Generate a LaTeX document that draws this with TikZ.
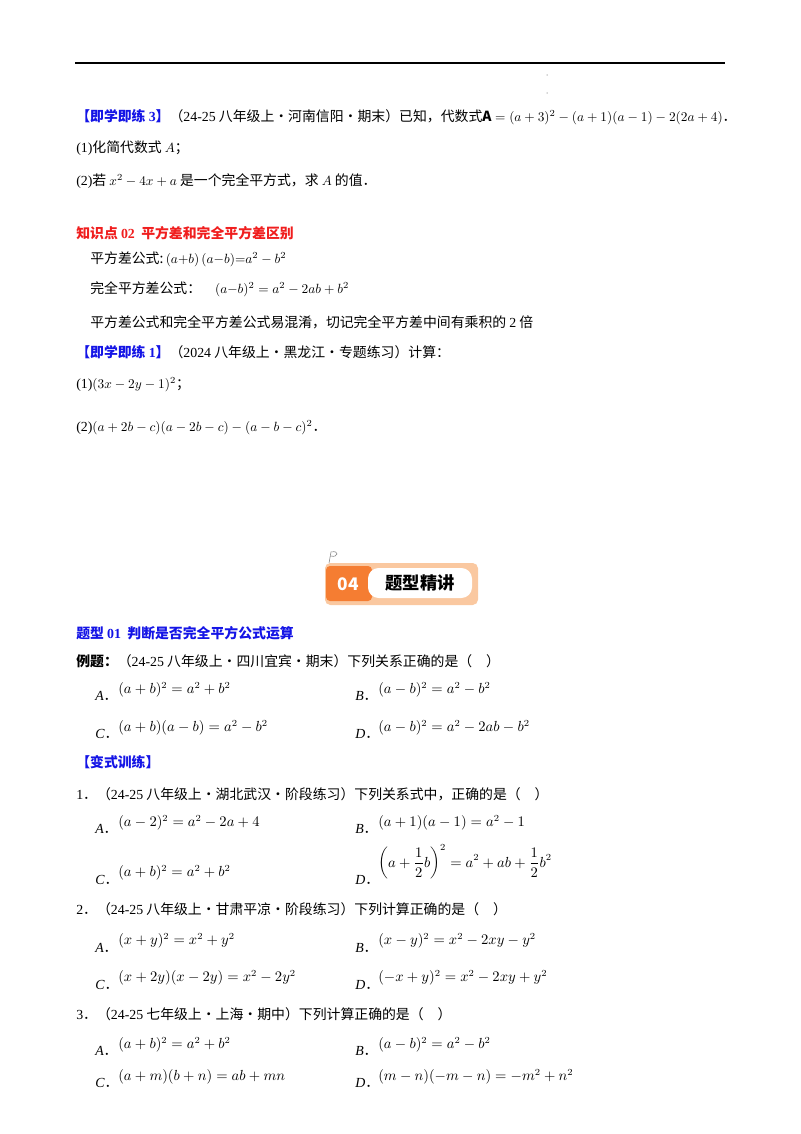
\documentclass[tikz,border=0pt]{standalone}
\usepackage{fontspec}
\setmainfont{Noto Sans CJK SC}
\newfontfamily\serif{Liberation Serif}
\usetikzlibrary{positioning}
\definecolor{bl}{RGB}{20,20,230}
\definecolor{rd}{RGB}{240,30,30}
\definecolor{orng}{RGB}{245,125,50}
\definecolor{lorng}{RGB}{250,200,160}
\newcommand\dotp{{\normalfont ．}}
\begin{document}
\begin{tikzpicture}[x=0.75pt,y=-0.75pt,
 txt/.style={anchor=west,inner sep=0pt,font=\fontsize{10.4}{12}\selectfont},
 opt/.style={anchor=west,inner sep=0pt,font=\fontsize{10.4}{12}\selectfont\serif\itshape},
 fml/.style={anchor=west,inner sep=0pt,font=\fontsize{10.5}{12}\selectfont}]
\useasboundingbox (0,0) rectangle (800,1134);
\fill[white] (0,0) rectangle (800,1134);
\draw[line width=1.1pt] (75,63) -- (725,63);
\node[fill=gray!60,circle,inner sep=0.4pt] (d1) at (547,75) {};
\node[fill=gray!60,circle,inner sep=0.4pt] (d2) at (547,93) {};
\node[txt] (l1) at (76,117) {\textcolor{bl}{\textbf{【即学即练 {\serif 3}】}}（{\serif 24-25} 八年级上·河南信阳·期末）已知，代数式$\mathbf{A}=(a+3)^2-(a+1)(a-1)-2(2a+4)$．};
\node[txt] (l2) at (76,148) {{\serif(1)}化简代数式 $A$；};
\node[txt] (l3) at (76,181) {{\serif(2)}若 $x^2-4x+a$ 是一个完全平方式，求 $A$ 的值．};
\node[txt,text=rd] (k) at (76,233) {\textbf{知识点 {\serif 02}\ \ 平方差和完全平方差区别}};
\node[txt] (f1) at (90,259) {平方差公式:\,$(a{+}b)\,(a{-}b){=}a^2-b^2$};
\node[txt] (f2) at (90,289) {完全平方差公式：\quad$(a{-}b)^2=a^2-2ab+b^2$};
\node[txt] (f3) at (90,322) {平方差公式和完全平方差公式易混淆，切记完全平方差中间有乘积的 {\serif 2} 倍};
\node[txt] (p1) at (76,352) {\textcolor{bl}{\textbf{【即学即练 {\serif 1}】}}（{\serif 2024} 八年级上·黑龙江·专题练习）计算：};
\node[txt] (p2) at (76,385) {{\serif(1)}$(3x-2y-1)^2$；};
\node[txt] (p3) at (76,428) {{\serif(2)}$(a+2b-c)(a-2b-c)-(a-b-c)^2$．};
% banner
\fill[lorng,rounded corners=4pt] (325,563) rectangle (478,605);
\fill[orng,rounded corners=3pt] (326,566) rectangle (372,601);
\fill[white,rounded corners=8pt] (368,568) rectangle (472,598);
\node[anchor=center,text=white,font=\bfseries\fontsize{13}{14}\selectfont] (n04) at (348,584) {04};
\node[anchor=center,font=\bfseries\fontsize{13}{14}\selectfont] (bt) at (420,583) {题型精讲};
\draw[gray,thin] (329,563) -- (331,552) .. controls (340,550) and (338,558) .. (331,556);
\node[txt,text=bl] (t1) at (76,633) {\textbf{题型 {\serif 01}\ \ 判断是否完全平方公式运算}};
\node[txt] (e0) at (76,661) {\textbf{例题：}（{\serif 24-25} 八年级上·四川宜宾·期末）下列关系正确的是（\quad）};
\node[opt] (eA) at (95,696) {A\dotp}; \node[fml] at (118,690) {$(a+b)^2=a^2+b^2$};
\node[opt] (eB) at (355,696) {B\dotp}; \node[fml] at (378,690) {$(a-b)^2=a^2-b^2$};
\node[opt] (eC) at (95,734) {C\dotp}; \node[fml] at (118,728) {$(a+b)(a-b)=a^2-b^2$};
\node[opt] (eD) at (355,734) {D\dotp}; \node[fml] at (378,728) {$(a-b)^2=a^2-2ab-b^2$};
\node[txt,text=bl] (bx) at (76,762) {\textbf{【变式训练】}};
\node[txt] (q1) at (76,794) {{\serif 1}．（{\serif 24-25} 八年级上·湖北武汉·阶段练习）下列关系式中，正确的是（\quad）};
\node[opt] at (95,829) {A\dotp}; \node[fml] at (118,823) {$(a-2)^2=a^2-2a+4$};
\node[opt] at (355,829) {B\dotp}; \node[fml] at (378,823) {$(a+1)(a-1)=a^2-1$};
\node[opt] at (95,880) {C\dotp}; \node[fml] at (118,873) {$(a+b)^2=a^2+b^2$};
\node[opt] at (355,880) {D\dotp}; \node[fml] at (378,862) {$\displaystyle\left(a+\frac{1}{2}b\right)^2=a^2+ab+\frac{1}{2}b^2$};
\node[txt] (q2) at (76,909) {{\serif 2}．（{\serif 24-25} 八年级上·甘肃平凉·阶段练习）下列计算正确的是（\quad）};
\node[opt] at (95,948) {A\dotp}; \node[fml] at (118,941) {$(x+y)^2=x^2+y^2$};
\node[opt] at (355,948) {B\dotp}; \node[fml] at (378,941) {$(x-y)^2=x^2-2xy-y^2$};
\node[opt] at (95,985) {C\dotp}; \node[fml] at (118,978) {$(x+2y)(x-2y)=x^2-2y^2$};
\node[opt] at (355,985) {D\dotp}; \node[fml] at (378,978) {$(-x+y)^2=x^2-2xy+y^2$};
\node[txt] (q3) at (76,1014) {{\serif 3}．（{\serif 24-25} 七年级上·上海·期中）下列计算正确的是（\quad）};
\node[opt] at (95,1051) {A\dotp}; \node[fml] at (118,1045) {$(a+b)^2=a^2+b^2$};
\node[opt] at (355,1051) {B\dotp}; \node[fml] at (378,1045) {$(a-b)^2=a^2-b^2$};
\node[opt] at (95,1083) {C\dotp}; \node[fml] at (118,1077) {$(a+m)(b+n)=ab+mn$};
\node[opt] at (355,1083) {D\dotp}; \node[fml] at (378,1077) {$(m-n)(-m-n)=-m^2+n^2$};
\end{tikzpicture}
\end{document}
